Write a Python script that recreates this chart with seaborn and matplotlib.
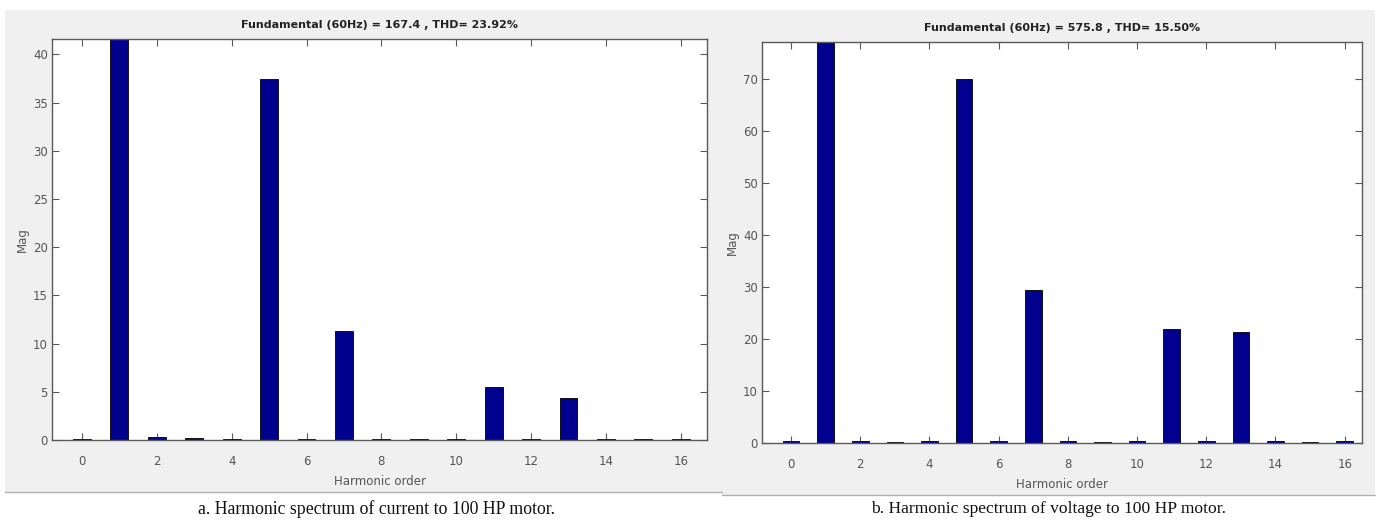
import matplotlib
matplotlib.use("Agg")
import matplotlib.pyplot as plt
from matplotlib.patches import Rectangle
import seaborn as sns
import pandas as pd

# Harmonic orders and magnitudes (fundamental bars exceed the visible range)
orders = list(range(17))
current_mag = [0.15, 167.4, 0.3, 0.25, 0.15, 37.5, 0.15, 11.3, 0.15, 0.1, 0.15,
               5.5, 0.15, 4.4, 0.15, 0.1, 0.15]
voltage_mag = [0.3, 575.8, 0.3, 0.25, 0.3, 70.0, 0.3, 29.4, 0.3, 0.25, 0.3,
               22.0, 0.3, 21.3, 0.3, 0.25, 0.3]

current_title = "Fundamental (60Hz) = 167.4 , THD= 23.92%"
voltage_title = "Fundamental (60Hz) = 575.8 , THD= 15.50%"
current_caption = "a. Harmonic spectrum of current to 100 HP motor."
voltage_caption = "b. Harmonic spectrum of voltage to 100 HP motor."
x_ticks = list(range(0, 17, 2))
current_yticks = [0, 5, 10, 15, 20, 25, 30, 35, 40]
voltage_yticks = [0, 10, 20, 30, 40, 50, 60, 70]

sns.set_theme(style="white")
plt.rcParams["font.family"] = ["DejaVu Sans"]

W, H = 1380, 523
fig = plt.figure(figsize=(W / 100, H / 100), dpi=100)
fig.patch.set_facecolor("white")

def fx(px):
    return px / W

def fy(py):
    return 1 - py / H

# grey figure panels behind each spectrum
for x0, x1, y0, y1 in [(5, 722, 10, 492), (722, 1375, 10, 495)]:
    fig.patches.append(Rectangle((fx(x0), fy(y1)), fx(x1 - x0), (y1 - y0) / H,
                                 transform=fig.transFigure, facecolor="#f0f0f0",
                                 edgecolor="none", zorder=-10))
    fig.add_artist(plt.Line2D([fx(x0), fx(x1)], [fy(y1), fy(y1)],
                              transform=fig.transFigure, color="#b0b0b0", lw=1,
                              zorder=-5))

spine_col = "#5a5a5a"
tick_col = "#555555"
bar_col = "#00008f"

def panel(rect, mags, title, yticks, ytop, xlim):
    left, top, right, bottom = rect
    ax = fig.add_axes([fx(left), fy(bottom), fx(right - left), (bottom - top) / H])
    ax.set_zorder(1)
    ax.set_facecolor("white")
    df = pd.DataFrame({"order": orders, "mag": mags})
    sns.barplot(data=df, x="order", y="mag", native_scale=True, width=0.48,
                color=bar_col, saturation=1, edgecolor="black", linewidth=0.6,
                ax=ax)
    ax.set_xlim(*xlim)
    ax.set_ylim(0, ytop)
    ax.set_xticks(x_ticks)
    ax.set_xticklabels([str(t) for t in x_ticks])
    ax.set_yticks(yticks)
    ax.set_yticklabels([str(t) for t in yticks])
    ax.tick_params(axis="both", direction="in", length=5, width=0.8,
                   colors=spine_col, labelcolor=tick_col, labelsize=8.5,
                   top=True, right=True, bottom=True, left=True)
    ax.tick_params(axis="x", pad=11)
    ax.tick_params(axis="y", pad=3)
    for s in ax.spines.values():
        s.set_visible(True)
        s.set_color(spine_col)
        s.set_linewidth(1.0)
    ax.set_title(title, fontsize=8, fontweight="bold", color="#222222", pad=8)
    ax.set_xlabel("Harmonic order", fontsize=8.5, color=tick_col, labelpad=5)
    ax.set_ylabel("Mag", fontsize=8.5, color=tick_col, labelpad=3)
    return ax

panel((52, 39, 707, 440), current_mag, current_title, current_yticks, 41.6, (-0.8, 16.7))
panel((762, 42, 1362, 443), voltage_mag, voltage_title, voltage_yticks, 77.1, (-0.84, 16.5))

fig.text(fx(376), fy(509), current_caption, ha="center", va="center",
         fontsize=12.8, family="Liberation Serif", color="#111111")
fig.text(fx(1049), fy(509), voltage_caption, ha="center", va="center",
         fontsize=12.6, family="Liberation Serif", color="#111111")

fig.savefig("out.png", dpi=100, facecolor="white")
